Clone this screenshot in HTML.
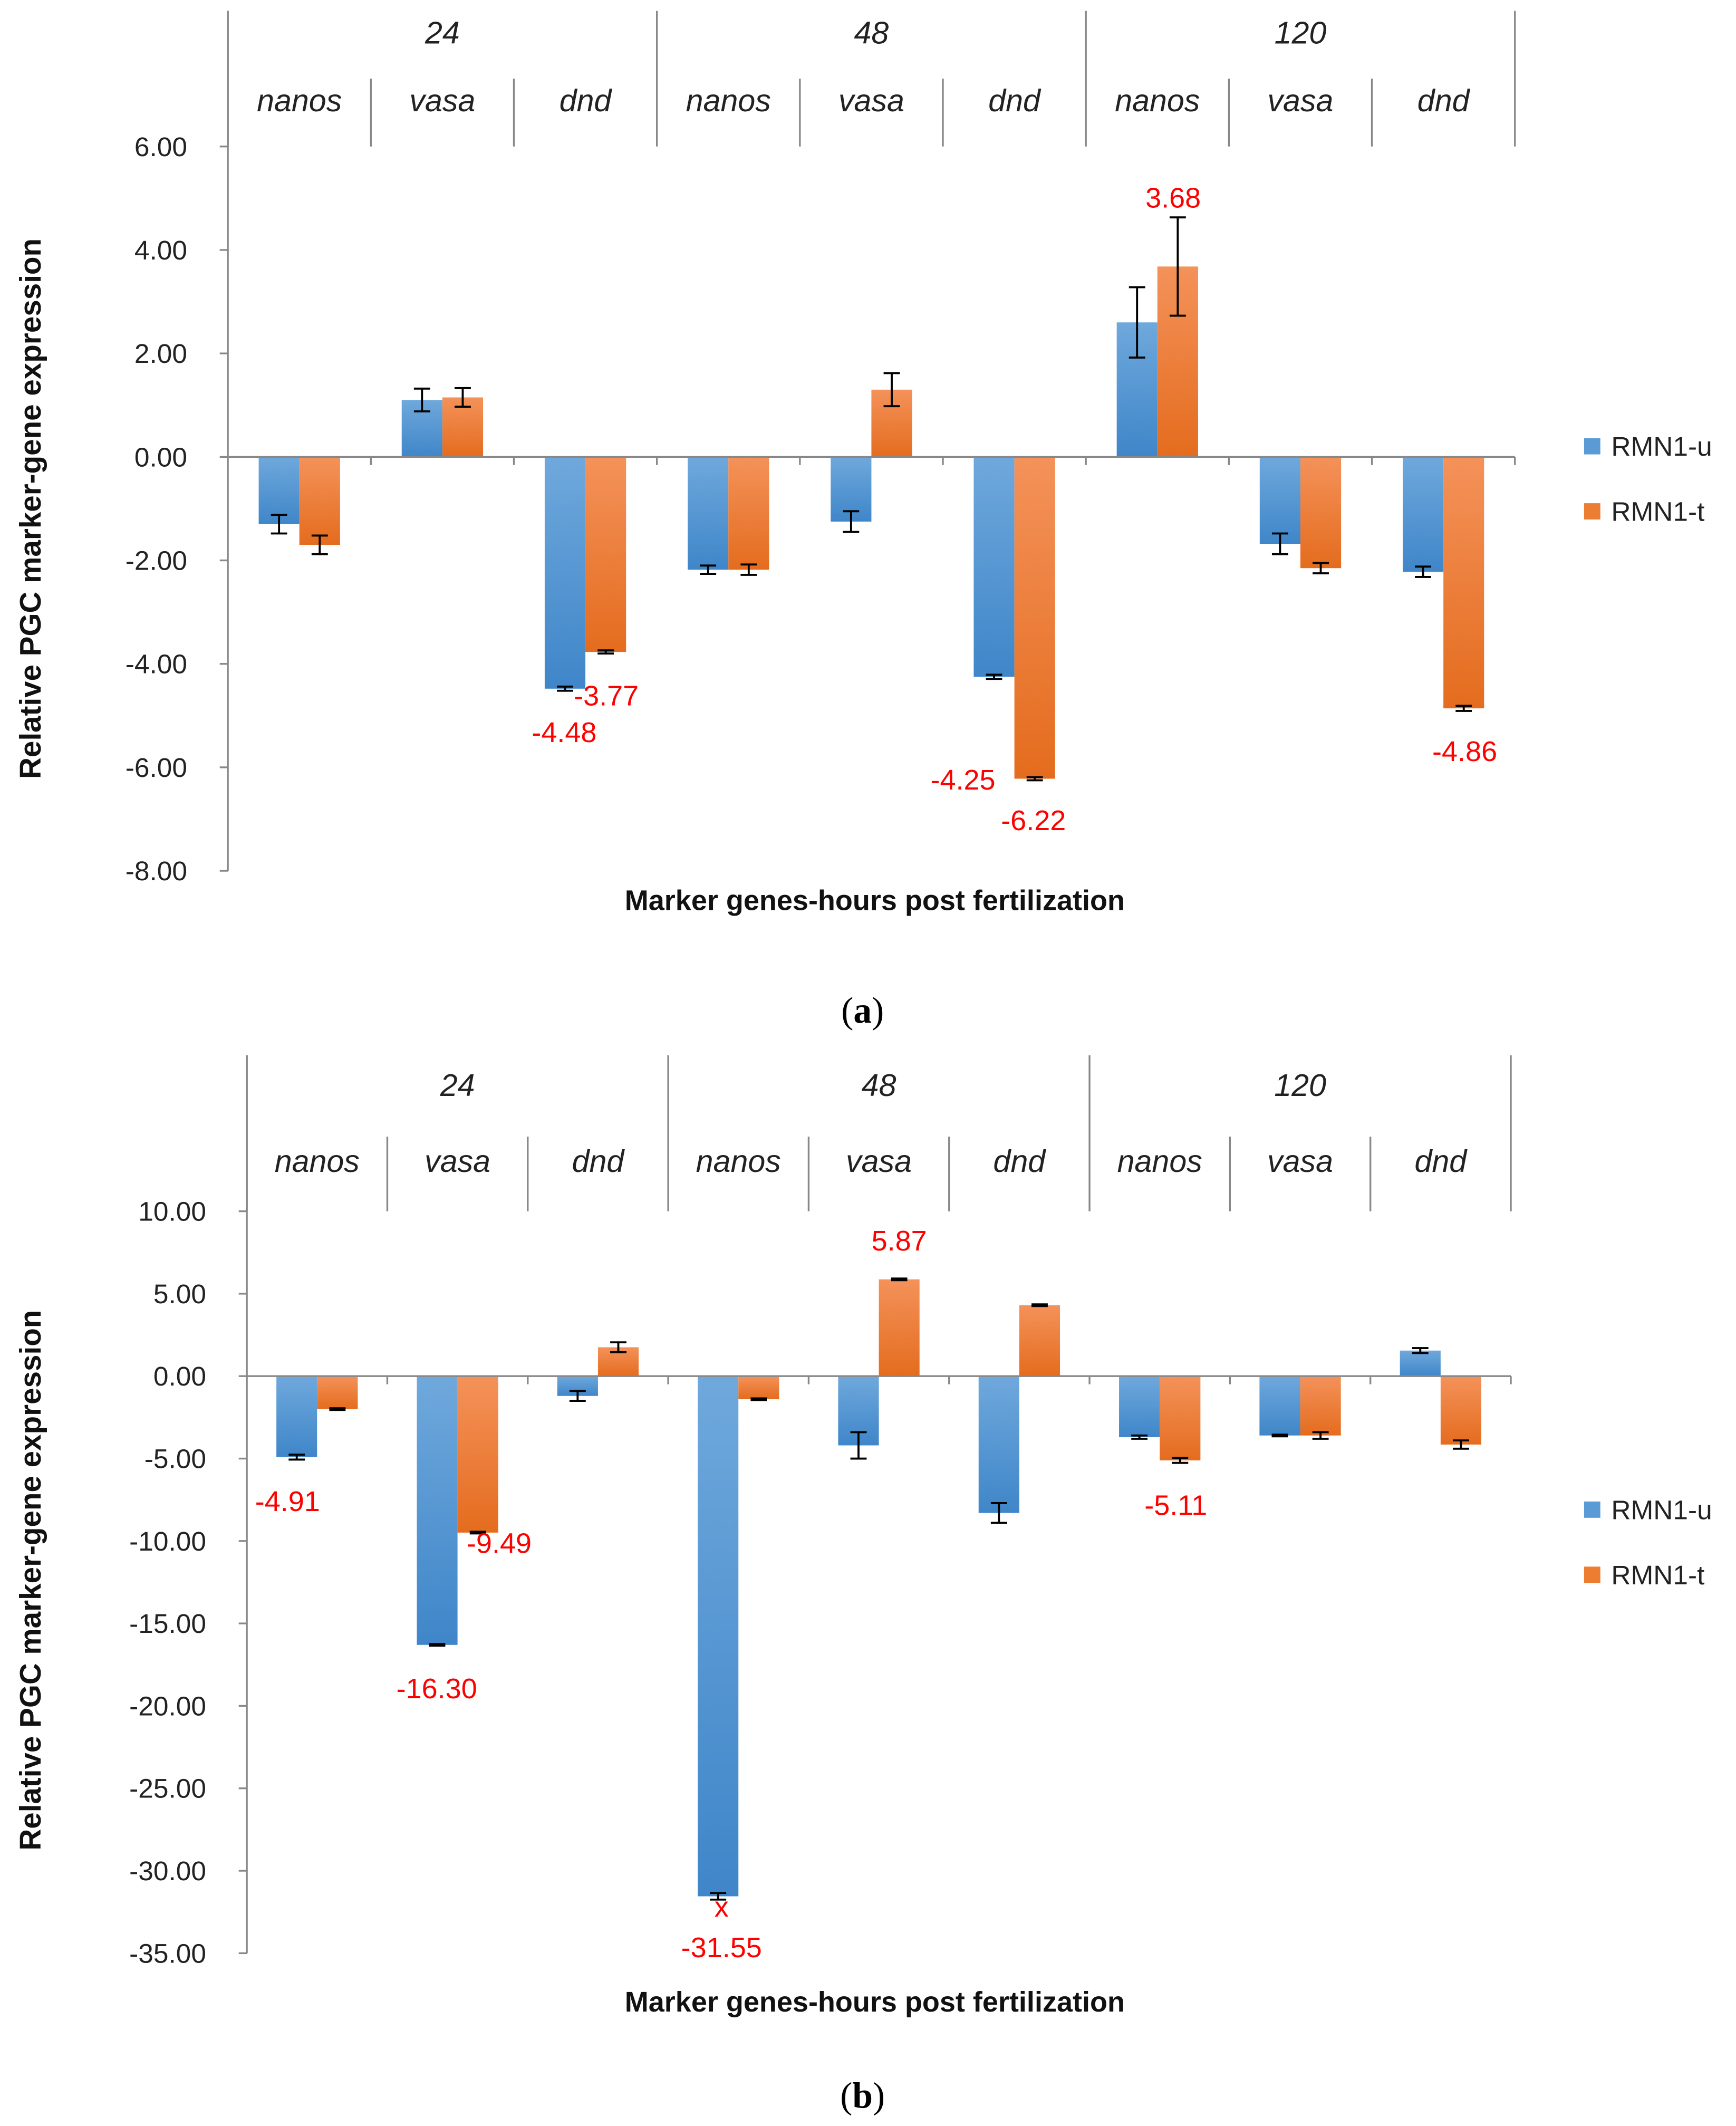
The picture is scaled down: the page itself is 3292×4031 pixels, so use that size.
<!DOCTYPE html>
<html><head><meta charset="utf-8"><style>
html,body{margin:0;padding:0;background:#fff;}
svg{display:block;}
text{font-family:"Liberation Sans",sans-serif;}
</style></head><body>
<svg id="c" width="3292" height="4031" viewBox="0 0 1280 1567.4" xmlns="http://www.w3.org/2000/svg">
<defs>
<linearGradient id="gb" x1="0" y1="0" x2="0" y2="1"><stop offset="0" stop-color="#6fa8dc"/><stop offset="1" stop-color="#3f86c9"/></linearGradient>
<linearGradient id="go" x1="0" y1="0" x2="0" y2="1"><stop offset="0" stop-color="#f4925a"/><stop offset="1" stop-color="#e46c1e"/></linearGradient>
</defs>
<text x="636" y="754" style="font-family:'Liberation Serif',serif" font-size="27" text-anchor="middle">(<tspan font-weight="bold">a</tspan>)</text>
<text x="636" y="1554" style="font-family:'Liberation Serif',serif" font-size="27" text-anchor="middle">(<tspan font-weight="bold">b</tspan>)</text>
</svg>
<script>
const genes = ["nanos","vasa","dnd","nanos","vasa","dnd","nanos","vasa","dnd"];
const hours = ["24","48","120"];
const aU = [-1.3,1.1,-4.48,-2.18,-1.25,-4.25,2.6,-1.68,-2.22];
const aT = [-1.7,1.15,-3.77,-2.18,1.3,-6.22,3.68,-2.15,-4.86];
const aUerr = [0.18,0.22,0.04,0.08,0.2,0.04,0.68,0.2,0.1];
const aTerr = [0.18,0.18,0.03,0.1,0.32,0.03,0.95,0.1,0.05];
const aTicks = [6,4,2,0,-2,-4,-6,-8];
const bU = [-4.91,-16.30,-1.2,-31.55,-4.2,-8.3,-3.7,-3.6,1.55];
const bT = [-2.0,-9.49,1.75,-1.4,5.87,4.3,-5.11,-3.6,-4.15];
const bUerr = [0.15,0.05,0.3,0.2,0.8,0.6,0.1,0.05,0.15];
const bTerr = [0.05,0.05,0.3,0.05,0.05,0.05,0.15,0.2,0.25];
const bTicks = [10,5,0,-5,-10,-15,-20,-25,-30,-35];

const svg = document.getElementById('c');
const NS = "http://www.w3.org/2000/svg";
function mk(tag, attrs, txt){
  const e = document.createElementNS(NS, tag);
  for (const k in attrs) e.setAttribute(k, attrs[k]);
  if (txt !== undefined) e.textContent = txt;
  svg.appendChild(e);
  return e;
}
function chart(p, U, T, Ue, Te, ticks, labels){
  const y = v => p.y0 + (ticks[0] - v) * (p.y1 - p.y0) / (ticks[0] - ticks[ticks.length-1]);
  const cw = (p.x1 - p.x0) / genes.length;
  const cx = i => p.x0 + cw * (i + 0.5);
  let e = mk('line',{x1:p.x0,y1:p.top,x2:p.x0,y2:p.y1,stroke:'#888','stroke-width':1.3});
  
  
  ticks.forEach(t => {
    const l = mk('line',{x1:p.x0-6,y1:y(t),x2:p.x0,y2:y(t),stroke:'#888','stroke-width':1.3});
    
    
    const tx = mk('text',{x:p.x0-30,y:y(t)+7,'font-size':20,'text-anchor':'end',fill:'#222'}, t.toFixed(2));
    
    
  });
  for (let i = 0; i <= genes.length; i++){
    const x = p.x0 + cw * i;
    const major = i % 3 === 0;
    const l = mk('line',{x1:x,y1:major?p.top:p.sepTop,x2:x,y2:y(ticks[0]),stroke:'#888','stroke-width':1.3});
    
    
  }
  hours.forEach((h, j) => {
    const t = mk('text',{x:p.x0 + cw*(3*j+1.5),y:p.hy,'font-size':23,'font-style':'italic','text-anchor':'middle',fill:'#222'}, h);
    
    
  });
  genes.forEach((g, i) => {
    const t = mk('text',{x:cx(i),y:p.gy,'font-size':23,'font-style':'italic','text-anchor':'middle',fill:'#222'}, g);
    
    
  });
  const bw = 30;
  [[U,Ue,'url(#gb)',-bw,'blue'],[T,Te,'url(#go)',0,'orange']].forEach(([vals,errs,fill,off,nm]) => {
    vals.forEach((v, i) => {
      const x = cx(i) + off;
      const r = mk('rect',{x:x,y:Math.min(y(v),y(0)),width:bw,height:Math.abs(y(v)-y(0)),fill:fill});
      
      
      const m = x + bw/2, e1 = y(v+errs[i]), e2 = y(v-errs[i]);
      const g = mk('path',{d:`M${m},${e1}V${e2}M${m-6},${e1}H${m+6}M${m-6},${e2}H${m+6}`,stroke:'#000','stroke-width':1.5,fill:'none'});
      
      
    });
  });
  e = mk('line',{x1:p.x0,y1:y(0),x2:p.x1,y2:y(0),stroke:'#888','stroke-width':1.3});
  
  
  for (let i = 1; i <= genes.length; i++){
    const l = mk('line',{x1:p.x0+cw*i,y1:y(0),x2:p.x0+cw*i,y2:y(0)+6,stroke:'#888','stroke-width':1.3});
    
    
  }
  labels.forEach(([t, x, yy]) => {
    const l = mk('text',{x:x,y:yy,'font-size':21,'text-anchor':'middle',fill:'#ff0000'}, t);
    
    
  });
  e = mk('text',{x:645,y:p.xt,'font-size':21,'font-weight':'bold','text-anchor':'middle',fill:'#111'}, 'Marker genes-hours post fertilization');
  
  
  e = mk('text',{x:0,y:0,'font-size':22,'font-weight':'bold','text-anchor':'middle',fill:'#111',transform:`translate(30,${p.yt}) rotate(-90)`}, 'Relative PGC marker-gene expression');
  
  
  [['RMN1-u','#5b9bd5',p.ly],['RMN1-t','#ed7d31',p.ly+48]].forEach(([t,c,ly]) => {
    const r = mk('rect',{x:1168,y:ly-10,width:12,height:12,fill:c});
    
    
    const tx = mk('text',{x:1188,y:ly+3,'font-size':20,fill:'#222'}, t);
    
    
  });
}
chart({id:'chart-a',x0:168,x1:1117,y0:108,y1:642,top:8,sepTop:58,hy:32,gy:82,xt:671,yt:375,ly:333}, aU, aT, aUerr, aTerr, aTicks,
  [['-4.48',416,547],['-3.77',447,520],['-4.25',710,582],['-6.22',762,612],['3.68',865,153],['-4.86',1080,561]]);
chart({id:'chart-b',x0:182,x1:1114,y0:893,y1:1440,top:778,sepTop:838,hy:808,gy:864,xt:1483,yt:1165,ly:1117}, bU, bT, bUerr, bTerr, bTicks,
  [['-4.91',212,1114],['-16.30',322,1252],['-9.49',368,1145],['5.87',663,922],['x',532,1413],['-31.55',532,1443],['-5.11',867,1117]]);
</script>
</body></html>
